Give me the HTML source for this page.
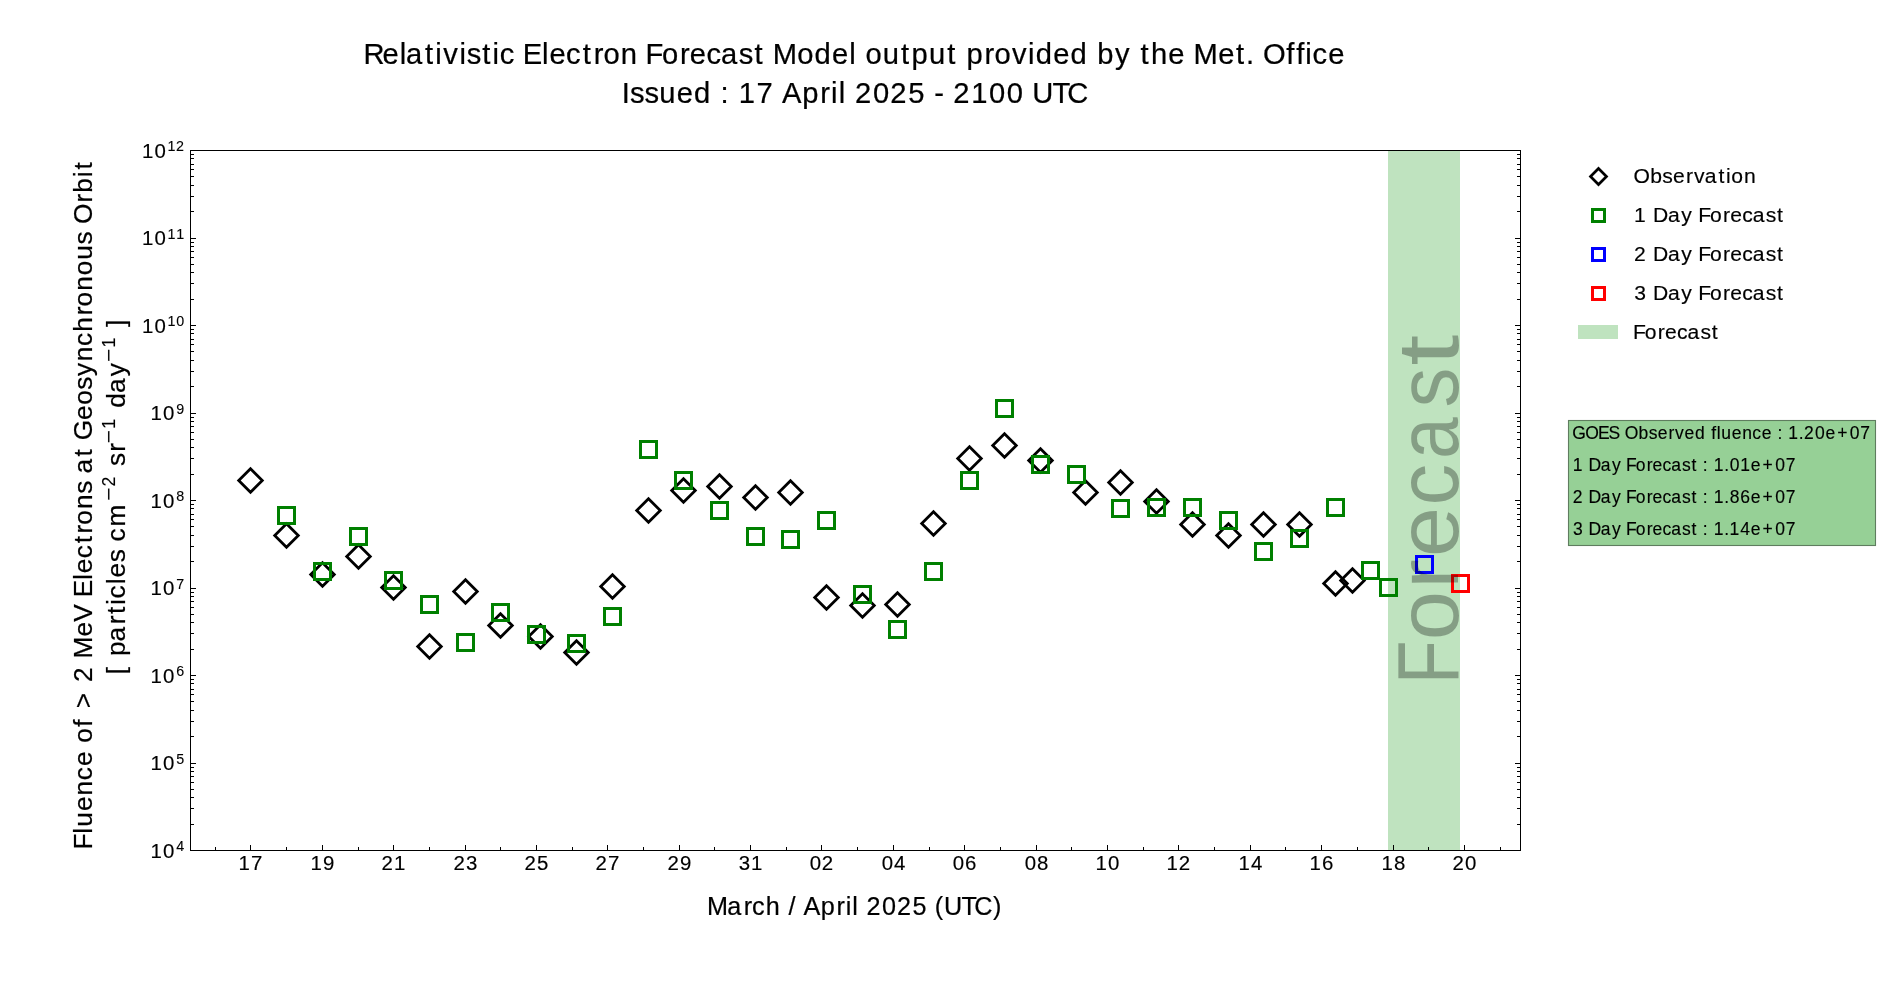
<!DOCTYPE html>
<html lang="en"><head><meta charset="utf-8"><title>Relativistic Electron Forecast</title>
<style>html,body{margin:0;padding:0;background:#fff;overflow:hidden}body{width:1900px;height:1000px;font-family:"Liberation Sans",sans-serif}svg{display:block;will-change:transform}</style></head>
<body>
<svg width="1900" height="1000" viewBox="0 0 1900 1000" font-family='"Liberation Sans", sans-serif' style="font-variant-ligatures:none;font-kerning:none" fill="#000" stroke="#000" stroke-width="0">
<rect width="1900" height="1000" fill="#fff"/>
<rect x="1388" y="150.5" width="72" height="700" fill="#bfe3bf"/>
<g>
<path d="M250.50 468.71L262.29 480.50L250.50 492.29L238.71 480.50Z" fill="none" stroke="#000" stroke-width="2.78"/>
<path d="M286.50 523.71L298.29 535.50L286.50 547.29L274.71 535.50Z" fill="none" stroke="#000" stroke-width="2.78"/>
<path d="M322.50 562.71L334.29 574.50L322.50 586.29L310.71 574.50Z" fill="none" stroke="#000" stroke-width="2.78"/>
<path d="M358.50 544.71L370.29 556.50L358.50 568.29L346.71 556.50Z" fill="none" stroke="#000" stroke-width="2.78"/>
<path d="M393.50 575.71L405.29 587.50L393.50 599.29L381.71 587.50Z" fill="none" stroke="#000" stroke-width="2.78"/>
<path d="M429.50 634.71L441.29 646.50L429.50 658.29L417.71 646.50Z" fill="none" stroke="#000" stroke-width="2.78"/>
<path d="M465.50 579.71L477.29 591.50L465.50 603.29L453.71 591.50Z" fill="none" stroke="#000" stroke-width="2.78"/>
<path d="M500.50 613.71L512.29 625.50L500.50 637.29L488.71 625.50Z" fill="none" stroke="#000" stroke-width="2.78"/>
<path d="M540.50 624.71L552.29 636.50L540.50 648.29L528.71 636.50Z" fill="none" stroke="#000" stroke-width="2.78"/>
<path d="M576.50 640.71L588.29 652.50L576.50 664.29L564.71 652.50Z" fill="none" stroke="#000" stroke-width="2.78"/>
<path d="M612.50 574.71L624.29 586.50L612.50 598.29L600.71 586.50Z" fill="none" stroke="#000" stroke-width="2.78"/>
<path d="M648.50 498.71L660.29 510.50L648.50 522.29L636.71 510.50Z" fill="none" stroke="#000" stroke-width="2.78"/>
<path d="M683.50 478.71L695.29 490.50L683.50 502.29L671.71 490.50Z" fill="none" stroke="#000" stroke-width="2.78"/>
<path d="M719.50 474.71L731.29 486.50L719.50 498.29L707.71 486.50Z" fill="none" stroke="#000" stroke-width="2.78"/>
<path d="M755.50 485.71L767.29 497.50L755.50 509.29L743.71 497.50Z" fill="none" stroke="#000" stroke-width="2.78"/>
<path d="M790.50 480.71L802.29 492.50L790.50 504.29L778.71 492.50Z" fill="none" stroke="#000" stroke-width="2.78"/>
<path d="M826.50 585.71L838.29 597.50L826.50 609.29L814.71 597.50Z" fill="none" stroke="#000" stroke-width="2.78"/>
<path d="M862.50 593.71L874.29 605.50L862.50 617.29L850.71 605.50Z" fill="none" stroke="#000" stroke-width="2.78"/>
<path d="M897.50 592.71L909.29 604.50L897.50 616.29L885.71 604.50Z" fill="none" stroke="#000" stroke-width="2.78"/>
<path d="M933.50 511.71L945.29 523.50L933.50 535.29L921.71 523.50Z" fill="none" stroke="#000" stroke-width="2.78"/>
<path d="M969.50 446.71L981.29 458.50L969.50 470.29L957.71 458.50Z" fill="none" stroke="#000" stroke-width="2.78"/>
<path d="M1004.50 433.71L1016.29 445.50L1004.50 457.29L992.71 445.50Z" fill="none" stroke="#000" stroke-width="2.78"/>
<path d="M1040.50 448.71L1052.29 460.50L1040.50 472.29L1028.71 460.50Z" fill="none" stroke="#000" stroke-width="2.78"/>
<path d="M1085.50 480.71L1097.29 492.50L1085.50 504.29L1073.71 492.50Z" fill="none" stroke="#000" stroke-width="2.78"/>
<path d="M1120.50 470.71L1132.29 482.50L1120.50 494.29L1108.71 482.50Z" fill="none" stroke="#000" stroke-width="2.78"/>
<path d="M1156.50 489.71L1168.29 501.50L1156.50 513.29L1144.71 501.50Z" fill="none" stroke="#000" stroke-width="2.78"/>
<path d="M1192.50 512.71L1204.29 524.50L1192.50 536.29L1180.71 524.50Z" fill="none" stroke="#000" stroke-width="2.78"/>
<path d="M1228.50 523.71L1240.29 535.50L1228.50 547.29L1216.71 535.50Z" fill="none" stroke="#000" stroke-width="2.78"/>
<path d="M1263.50 512.71L1275.29 524.50L1263.50 536.29L1251.71 524.50Z" fill="none" stroke="#000" stroke-width="2.78"/>
<path d="M1299.50 512.71L1311.29 524.50L1299.50 536.29L1287.71 524.50Z" fill="none" stroke="#000" stroke-width="2.78"/>
<path d="M1335.50 571.71L1347.29 583.50L1335.50 595.29L1323.71 583.50Z" fill="none" stroke="#000" stroke-width="2.78"/>
<path d="M1352.50 568.71L1364.29 580.50L1352.50 592.29L1340.71 580.50Z" fill="none" stroke="#000" stroke-width="2.78"/>
<rect x="278.50" y="507.50" width="16.00" height="16.00" fill="none" stroke="#008000" stroke-width="3"/>
<rect x="314.50" y="563.50" width="16.00" height="16.00" fill="none" stroke="#008000" stroke-width="3"/>
<rect x="350.50" y="528.50" width="16.00" height="16.00" fill="none" stroke="#008000" stroke-width="3"/>
<rect x="385.50" y="572.50" width="16.00" height="16.00" fill="none" stroke="#008000" stroke-width="3"/>
<rect x="421.50" y="596.50" width="16.00" height="16.00" fill="none" stroke="#008000" stroke-width="3"/>
<rect x="457.50" y="634.50" width="16.00" height="16.00" fill="none" stroke="#008000" stroke-width="3"/>
<rect x="492.50" y="604.50" width="16.00" height="16.00" fill="none" stroke="#008000" stroke-width="3"/>
<rect x="528.50" y="626.50" width="16.00" height="16.00" fill="none" stroke="#008000" stroke-width="3"/>
<rect x="568.50" y="635.50" width="16.00" height="16.00" fill="none" stroke="#008000" stroke-width="3"/>
<rect x="604.50" y="608.50" width="16.00" height="16.00" fill="none" stroke="#008000" stroke-width="3"/>
<rect x="640.50" y="441.50" width="16.00" height="16.00" fill="none" stroke="#008000" stroke-width="3"/>
<rect x="675.50" y="472.50" width="16.00" height="16.00" fill="none" stroke="#008000" stroke-width="3"/>
<rect x="711.50" y="502.50" width="16.00" height="16.00" fill="none" stroke="#008000" stroke-width="3"/>
<rect x="747.50" y="528.50" width="16.00" height="16.00" fill="none" stroke="#008000" stroke-width="3"/>
<rect x="782.50" y="531.50" width="16.00" height="16.00" fill="none" stroke="#008000" stroke-width="3"/>
<rect x="818.50" y="512.50" width="16.00" height="16.00" fill="none" stroke="#008000" stroke-width="3"/>
<rect x="854.50" y="586.50" width="16.00" height="16.00" fill="none" stroke="#008000" stroke-width="3"/>
<rect x="889.50" y="621.50" width="16.00" height="16.00" fill="none" stroke="#008000" stroke-width="3"/>
<rect x="925.50" y="563.50" width="16.00" height="16.00" fill="none" stroke="#008000" stroke-width="3"/>
<rect x="961.50" y="472.50" width="16.00" height="16.00" fill="none" stroke="#008000" stroke-width="3"/>
<rect x="996.50" y="400.50" width="16.00" height="16.00" fill="none" stroke="#008000" stroke-width="3"/>
<rect x="1032.50" y="456.50" width="16.00" height="16.00" fill="none" stroke="#008000" stroke-width="3"/>
<rect x="1068.50" y="466.50" width="16.00" height="16.00" fill="none" stroke="#008000" stroke-width="3"/>
<rect x="1112.50" y="500.50" width="16.00" height="16.00" fill="none" stroke="#008000" stroke-width="3"/>
<rect x="1148.50" y="499.50" width="16.00" height="16.00" fill="none" stroke="#008000" stroke-width="3"/>
<rect x="1184.50" y="499.50" width="16.00" height="16.00" fill="none" stroke="#008000" stroke-width="3"/>
<rect x="1220.50" y="512.50" width="16.00" height="16.00" fill="none" stroke="#008000" stroke-width="3"/>
<rect x="1255.50" y="543.50" width="16.00" height="16.00" fill="none" stroke="#008000" stroke-width="3"/>
<rect x="1291.50" y="530.50" width="16.00" height="16.00" fill="none" stroke="#008000" stroke-width="3"/>
<rect x="1327.50" y="499.50" width="16.00" height="16.00" fill="none" stroke="#008000" stroke-width="3"/>
<rect x="1362.50" y="562.50" width="16.00" height="16.00" fill="none" stroke="#008000" stroke-width="3"/>
<rect x="1380.50" y="579.50" width="16.00" height="16.00" fill="none" stroke="#008000" stroke-width="3"/>
<rect x="1416.50" y="556.50" width="16.00" height="16.00" fill="none" stroke="#0000ff" stroke-width="3"/>
<rect x="1452.50" y="575.50" width="16.00" height="16.00" fill="none" stroke="#ff0000" stroke-width="3"/>
</g>
<clipPath id="ax"><rect x="190.5" y="150.5" width="1330.0" height="700.0"/></clipPath>
<g clip-path="url(#ax)"><g transform="translate(1457.80 686.20) rotate(-90)" fill-opacity="0.3"><text transform="translate(2.32 0) scale(0.8163 1)" font-size="87.50" stroke-width="0.00">F</text><text transform="translate(45.84 0) scale(1.0125 1)" font-size="87.50" stroke-width="0.00">o</text><text transform="translate(97.70 0) scale(1.0000 1)" font-size="87.50" stroke-width="0.00">r</text><text transform="translate(129.15 0) scale(1.0287 1)" font-size="87.50" stroke-width="0.00">e</text><text transform="translate(180.69 0) scale(0.9556 1)" font-size="87.50" stroke-width="0.00">c</text><text transform="translate(227.28 0) scale(0.8564 1)" font-size="87.50" stroke-width="0.00">a</text><text transform="translate(278.81 0) scale(0.9129 1)" font-size="87.50" stroke-width="0.00">s</text><text transform="translate(320.49 0) scale(1.2729 1)" font-size="87.50" stroke-width="0.00">t</text></g></g>
<path d="M215.50 850.5V847.0M250.50 850.5V845.0M286.50 850.5V847.0M322.50 850.5V845.0M358.50 850.5V847.0M393.50 850.5V845.0M429.50 850.5V847.0M465.50 850.5V845.0M500.50 850.5V847.0M536.50 850.5V845.0M572.50 850.5V847.0M607.50 850.5V845.0M643.50 850.5V847.0M679.50 850.5V845.0M714.50 850.5V847.0M750.50 850.5V845.0M786.50 850.5V847.0M821.50 850.5V845.0M857.50 850.5V847.0M893.50 850.5V845.0M929.50 850.5V847.0M964.50 850.5V845.0M1000.50 850.5V847.0M1036.50 850.5V845.0M1071.50 850.5V847.0M1107.50 850.5V845.0M1143.50 850.5V847.0M1178.50 850.5V845.0M1214.50 850.5V847.0M1250.50 850.5V845.0M1285.50 850.5V847.0M1321.50 850.5V845.0M1357.50 850.5V847.0M1393.50 850.5V845.0M1428.50 850.5V847.0M1464.50 850.5V845.0M1500.50 850.5V847.0M190.5 850.50H196.0M1520.5 850.50H1515.0M190.5 824.50H194.0M1520.5 824.50H1517.0M190.5 808.50H194.0M1520.5 808.50H1517.0M190.5 797.50H194.0M1520.5 797.50H1517.0M190.5 789.50H194.0M1520.5 789.50H1517.0M190.5 782.50H194.0M1520.5 782.50H1517.0M190.5 776.50H194.0M1520.5 776.50H1517.0M190.5 771.50H194.0M1520.5 771.50H1517.0M190.5 767.50H194.0M1520.5 767.50H1517.0M190.5 763.50H196.0M1520.5 763.50H1515.0M190.5 736.50H194.0M1520.5 736.50H1517.0M190.5 721.50H194.0M1520.5 721.50H1517.0M190.5 710.50H194.0M1520.5 710.50H1517.0M190.5 701.50H194.0M1520.5 701.50H1517.0M190.5 694.50H194.0M1520.5 694.50H1517.0M190.5 689.50H194.0M1520.5 689.50H1517.0M190.5 683.50H194.0M1520.5 683.50H1517.0M190.5 679.50H194.0M1520.5 679.50H1517.0M190.5 675.50H196.0M1520.5 675.50H1515.0M190.5 649.50H194.0M1520.5 649.50H1517.0M190.5 633.50H194.0M1520.5 633.50H1517.0M190.5 622.50H194.0M1520.5 622.50H1517.0M190.5 614.50H194.0M1520.5 614.50H1517.0M190.5 607.50H194.0M1520.5 607.50H1517.0M190.5 601.50H194.0M1520.5 601.50H1517.0M190.5 596.50H194.0M1520.5 596.50H1517.0M190.5 592.50H194.0M1520.5 592.50H1517.0M190.5 588.50H196.0M1520.5 588.50H1515.0M190.5 561.50H194.0M1520.5 561.50H1517.0M190.5 546.50H194.0M1520.5 546.50H1517.0M190.5 535.50H194.0M1520.5 535.50H1517.0M190.5 526.50H194.0M1520.5 526.50H1517.0M190.5 519.50H194.0M1520.5 519.50H1517.0M190.5 514.50H194.0M1520.5 514.50H1517.0M190.5 508.50H194.0M1520.5 508.50H1517.0M190.5 504.50H194.0M1520.5 504.50H1517.0M190.5 500.50H196.0M1520.5 500.50H1515.0M190.5 474.50H194.0M1520.5 474.50H1517.0M190.5 458.50H194.0M1520.5 458.50H1517.0M190.5 447.50H194.0M1520.5 447.50H1517.0M190.5 439.50H194.0M1520.5 439.50H1517.0M190.5 432.50H194.0M1520.5 432.50H1517.0M190.5 426.50H194.0M1520.5 426.50H1517.0M190.5 421.50H194.0M1520.5 421.50H1517.0M190.5 417.50H194.0M1520.5 417.50H1517.0M190.5 413.50H196.0M1520.5 413.50H1515.0M190.5 386.50H194.0M1520.5 386.50H1517.0M190.5 371.50H194.0M1520.5 371.50H1517.0M190.5 360.50H194.0M1520.5 360.50H1517.0M190.5 351.50H194.0M1520.5 351.50H1517.0M190.5 344.50H194.0M1520.5 344.50H1517.0M190.5 339.50H194.0M1520.5 339.50H1517.0M190.5 333.50H194.0M1520.5 333.50H1517.0M190.5 329.50H194.0M1520.5 329.50H1517.0M190.5 325.50H196.0M1520.5 325.50H1515.0M190.5 299.50H194.0M1520.5 299.50H1517.0M190.5 283.50H194.0M1520.5 283.50H1517.0M190.5 272.50H194.0M1520.5 272.50H1517.0M190.5 264.50H194.0M1520.5 264.50H1517.0M190.5 257.50H194.0M1520.5 257.50H1517.0M190.5 251.50H194.0M1520.5 251.50H1517.0M190.5 246.50H194.0M1520.5 246.50H1517.0M190.5 242.50H194.0M1520.5 242.50H1517.0M190.5 238.50H196.0M1520.5 238.50H1515.0M190.5 211.50H194.0M1520.5 211.50H1517.0M190.5 196.50H194.0M1520.5 196.50H1517.0M190.5 185.50H194.0M1520.5 185.50H1517.0M190.5 176.50H194.0M1520.5 176.50H1517.0M190.5 169.50H194.0M1520.5 169.50H1517.0M190.5 164.50H194.0M1520.5 164.50H1517.0M190.5 158.50H194.0M1520.5 158.50H1517.0M190.5 154.50H194.0M1520.5 154.50H1517.0M190.5 150.50H196.0M1520.5 150.50H1515.0" stroke="#000" stroke-width="1" fill="none" shape-rendering="crispEdges"/>
<rect x="190.5" y="150.5" width="1330.0" height="700.0" fill="none" stroke="#000" stroke-width="1" shape-rendering="crispEdges"/>
<text transform="translate(250.50 870.00)" x="-11.97 0.46" y="0" font-size="20.41" stroke-width="0.16">17</text>
<text transform="translate(322.50 870.00)" x="-11.97 0.44" y="0" font-size="20.41" stroke-width="0.16">19</text>
<text transform="translate(393.50 870.00)" x="-12.12 0.40" y="0" font-size="20.41" stroke-width="0.16">21</text>
<text transform="translate(465.50 870.00)" x="-12.12 0.53" y="0" font-size="20.41" stroke-width="0.16">23</text>
<text transform="translate(536.50 870.00)" x="-12.12 0.43" y="0" font-size="20.41" stroke-width="0.16">25</text>
<text transform="translate(607.50 870.00)" x="-12.12 0.46" y="0" font-size="20.41" stroke-width="0.16">27</text>
<text transform="translate(679.50 870.00)" x="-12.12 0.44" y="0" font-size="20.41" stroke-width="0.16">29</text>
<text transform="translate(750.50 870.00)" x="-11.84 0.40" y="0" font-size="20.41" stroke-width="0.16">31</text>
<text transform="translate(821.50 870.00)" x="-11.86 0.25" y="0" font-size="20.41" stroke-width="0.16">02</text>
<text transform="translate(893.50 870.00)" x="-11.86 0.50" y="0" font-size="20.41" stroke-width="0.16">04</text>
<text transform="translate(964.50 870.00)" x="-11.86 0.50" y="0" font-size="20.41" stroke-width="0.16">06</text>
<text transform="translate(1036.50 870.00)" x="-11.86 0.50" y="0" font-size="20.41" stroke-width="0.16">08</text>
<text transform="translate(1107.50 870.00)" x="-11.97 0.50" y="0" font-size="20.41" stroke-width="0.16">10</text>
<text transform="translate(1178.50 870.00)" x="-11.97 0.25" y="0" font-size="20.41" stroke-width="0.16">12</text>
<text transform="translate(1250.50 870.00)" x="-11.97 0.50" y="0" font-size="20.41" stroke-width="0.16">14</text>
<text transform="translate(1321.50 870.00)" x="-11.97 0.50" y="0" font-size="20.41" stroke-width="0.16">16</text>
<text transform="translate(1393.50 870.00)" x="-11.97 0.50" y="0" font-size="20.41" stroke-width="0.16">18</text>
<text transform="translate(1464.50 870.00)" x="-12.12 0.50" y="0" font-size="20.41" stroke-width="0.16">20</text>
<text transform="translate(174.94 857.70)" x="-24.34 -11.86" y="0" font-size="20.41" stroke-width="0.16">10</text>
<text transform="translate(175.94 851.00)" x="0.35" y="0" font-size="14.29" stroke-width="0.11">4</text>
<text transform="translate(174.94 770.20)" x="-24.34 -11.86" y="0" font-size="20.41" stroke-width="0.16">10</text>
<text transform="translate(175.94 763.50)" x="0.30" y="0" font-size="14.29" stroke-width="0.11">5</text>
<text transform="translate(174.94 682.70)" x="-24.34 -11.86" y="0" font-size="20.41" stroke-width="0.16">10</text>
<text transform="translate(175.94 676.00)" x="0.35" y="0" font-size="14.29" stroke-width="0.11">6</text>
<text transform="translate(174.94 595.20)" x="-24.34 -11.86" y="0" font-size="20.41" stroke-width="0.16">10</text>
<text transform="translate(175.94 588.50)" x="0.33" y="0" font-size="14.29" stroke-width="0.11">7</text>
<text transform="translate(174.94 507.70)" x="-24.34 -11.86" y="0" font-size="20.41" stroke-width="0.16">10</text>
<text transform="translate(175.94 501.00)" x="0.35" y="0" font-size="14.29" stroke-width="0.11">8</text>
<text transform="translate(174.94 420.20)" x="-24.34 -11.86" y="0" font-size="20.41" stroke-width="0.16">10</text>
<text transform="translate(175.94 413.50)" x="0.31" y="0" font-size="14.29" stroke-width="0.11">9</text>
<text transform="translate(166.28 332.70)" x="-24.34 -11.86" y="0" font-size="20.41" stroke-width="0.16">10</text>
<text transform="translate(167.28 326.00)" x="0.28 9.01" y="0" font-size="14.29" stroke-width="0.11">10</text>
<text transform="translate(166.28 245.20)" x="-24.34 -11.86" y="0" font-size="20.41" stroke-width="0.16">10</text>
<text transform="translate(167.28 238.50)" x="0.28 8.94" y="0" font-size="14.29" stroke-width="0.11">11</text>
<text transform="translate(166.28 157.70)" x="-24.34 -11.86" y="0" font-size="20.41" stroke-width="0.16">10</text>
<text transform="translate(167.28 151.00)" x="0.28 8.83" y="0" font-size="14.29" stroke-width="0.11">12</text>
<text transform="translate(363.90 64.30)" x="-0.44 18.54 35.76 42.22 61.21 71.41 79.43 95.57 102.80 118.45 128.65 135.75 151.01 158.80 178.01 185.60 202.22 218.80 229.76 239.58 256.93 273.78 281.64 298.00 315.99 325.90 342.52 357.13 374.94 390.59 400.16 408.84 433.36 450.50 468.08 485.30 492.40 501.63 518.86 537.16 547.61 564.99 583.29 592.86 602.57 620.71 630.53 648.06 664.21 671.83 689.42 706.55 723.65 733.36 751.03 766.55 776.71 786.99 804.37 820.97 829.65 854.26 872.19 882.11 890.59 899.01 922.48 932.26 941.48 948.58 964.33" y="0" font-size="29.17" stroke-width="0.23">Relativistic Electron Forecast Model output provided by the Met. Office</text>
<text transform="translate(621.60 102.70)" x="0.04 8.33 22.81 37.77 55.24 72.38 89.47 98.94 107.66 117.06 134.83 151.84 160.44 180.55 198.70 209.36 217.07 224.17 233.35 251.39 268.70 286.63 303.69 312.68 322.55 331.73 349.63 367.45 385.12 402.08 410.54 430.82 445.59" y="0" font-size="29.17" stroke-width="0.23">Issued : 17 April 2025 - 2100 UTC</text>
<text transform="translate(707.15 914.80)" x="-0.14 20.15 36.61 44.77 58.56 73.16 81.33 88.88 96.30 113.68 129.36 138.57 145.23 151.36 159.29 174.88 189.83 205.33 220.07 227.54 236.74 254.26 267.02 285.76" y="0" font-size="25.20" stroke-width="0.20">March / April 2025 (UTC)</text>
<text transform="translate(92.00 848.65) rotate(-90)" x="-0.88 14.94 21.89 37.61 53.23 68.41 82.58 97.52 105.82 121.84 129.57 140.31 158.46 166.72 182.31 190.12 212.27 227.00 244.31 251.32 268.61 275.44 290.39 305.31 315.18 324.01 339.63 354.92 367.82 375.19 392.28 400.89 408.31 428.65 443.95 459.01 472.74 487.38 502.56 516.93 533.39 542.22 557.84 573.36 588.87 604.28 617.18 624.76 646.05 655.87 671.52 679.08" y="0" font-size="26.25" stroke-width="0.21">Fluence of &gt; 2 MeV Electrons at Geosynchronous Orbit</text>
<text transform="translate(125.10 674.45) rotate(-90)" x="0.26 9.75 18.49 32.99 50.14 60.36 69.54 75.93 90.22 97.05 112.11 125.01 132.97 148.01" y="0" font-size="26.25" stroke-width="0.21">[ particles cm</text>
<g transform="translate(114.90 501.60) rotate(-90)"><text transform="translate(0.74 0) scale(1.2271 1)" font-size="18.38" stroke-width="0.15">&#8722;</text><text transform="translate(15.05 0) scale(0.9677 1)" font-size="18.38" stroke-width="0.15">2</text></g>
<text transform="translate(125.10 466.00) rotate(-90)" x="0.13 14.27" y="0" font-size="26.25" stroke-width="0.21">sr</text>
<g transform="translate(114.90 443.90) rotate(-90)"><text transform="translate(0.74 0) scale(1.2271 1)" font-size="18.38" stroke-width="0.15">&#8722;</text><text transform="translate(15.24 0) scale(0.9589 1)" font-size="18.38" stroke-width="0.15">1</text></g>
<text transform="translate(125.10 408.20) rotate(-90)" x="0.48 15.29 32.02" y="0" font-size="26.25" stroke-width="0.21">day</text>
<g transform="translate(114.90 362.80) rotate(-90)"><text transform="translate(0.74 0) scale(1.2271 1)" font-size="18.38" stroke-width="0.15">&#8722;</text><text transform="translate(15.24 0) scale(0.9589 1)" font-size="18.38" stroke-width="0.15">1</text></g>
<text transform="translate(125.10 329.10) rotate(-90)" x="2.20" y="0" font-size="26.25" stroke-width="0.21">]</text>
<path d="M1598.50 168.51L1606.49 176.50L1598.50 184.49L1590.51 176.50Z" fill="none" stroke="#000" stroke-width="2.7"/>
<rect x="1592.50" y="209.50" width="12.00" height="12.00" fill="none" stroke="#008000" stroke-width="3"/>
<rect x="1592.50" y="248.50" width="12.00" height="12.00" fill="none" stroke="#0000ff" stroke-width="3"/>
<rect x="1592.50" y="287.50" width="12.00" height="12.00" fill="none" stroke="#ff0000" stroke-width="3"/>
<rect x="1578" y="325" width="40" height="14" fill="#bfe3bf"/>
<text transform="translate(1633.70 182.90)" x="-0.29 16.46 28.68 39.41 52.42 60.35 71.11 84.85 92.23 97.64 110.20" y="0" font-size="21.11" stroke-width="0.17">Observation</text>
<text transform="translate(1633.70 222.00)" x="0.41 12.79 19.33 34.19 47.64 58.87 64.55 76.39 89.40 96.58 108.60 119.17 132.06 143.38" y="0" font-size="21.11" stroke-width="0.17">1 Day Forecast</text>
<text transform="translate(1633.70 261.00)" x="0.26 12.79 19.33 34.19 47.64 58.87 64.55 76.39 89.40 96.58 108.60 119.17 132.06 143.38" y="0" font-size="21.11" stroke-width="0.17">2 Day Forecast</text>
<text transform="translate(1633.70 300.00)" x="0.55 12.79 19.33 34.19 47.64 58.87 64.55 76.39 89.40 96.58 108.60 119.17 132.06 143.38" y="0" font-size="21.11" stroke-width="0.17">3 Day Forecast</text>
<text transform="translate(1633.70 339.00)" x="-0.71 11.13 24.15 31.32 43.34 53.91 66.80 78.13" y="0" font-size="21.11" stroke-width="0.17">Forecast</text>
<rect x="1568.5" y="420.5" width="307" height="125" fill="#96d096" stroke="#5f7d5f" stroke-width="1.1"/>
<text transform="translate(1572.50 438.70)" x="-0.35 12.68 25.41 36.11 47.15 52.21 66.10 76.24 85.13 95.93 102.51 112.11 122.39 132.65 138.67 144.19 148.83 159.31 169.72 179.85 189.30 199.26 204.94 210.17 215.82 226.29 231.59 242.42 252.88 264.72 277.24 287.82" y="0" font-size="17.50" stroke-width="0.14">GOES Observed fluence : 1.20e+07</text>
<text transform="translate(1572.50 470.80)" x="0.34 10.61 16.03 28.35 39.51 48.82 53.54 63.35 74.15 80.10 90.07 98.83 109.52 118.92 124.66 130.34 135.57 141.22 151.69 157.21 167.73 178.28 190.12 202.64 213.22" y="0" font-size="17.50" stroke-width="0.14">1 Day Forecast : 1.01e+07</text>
<text transform="translate(1572.50 502.80)" x="0.21 10.61 16.03 28.35 39.51 48.82 53.54 63.35 74.15 80.10 90.07 98.83 109.52 118.92 124.66 130.34 135.57 141.22 151.69 157.21 167.82 178.28 190.12 202.64 213.22" y="0" font-size="17.50" stroke-width="0.14">2 Day Forecast : 1.86e+07</text>
<text transform="translate(1572.50 534.80)" x="0.45 10.61 16.03 28.35 39.51 48.82 53.54 63.35 74.15 80.10 90.07 98.83 109.52 118.92 124.66 130.34 135.57 141.22 151.69 157.12 167.81 178.28 190.12 202.64 213.22" y="0" font-size="17.50" stroke-width="0.14">3 Day Forecast : 1.14e+07</text>
</svg>
</body></html>
